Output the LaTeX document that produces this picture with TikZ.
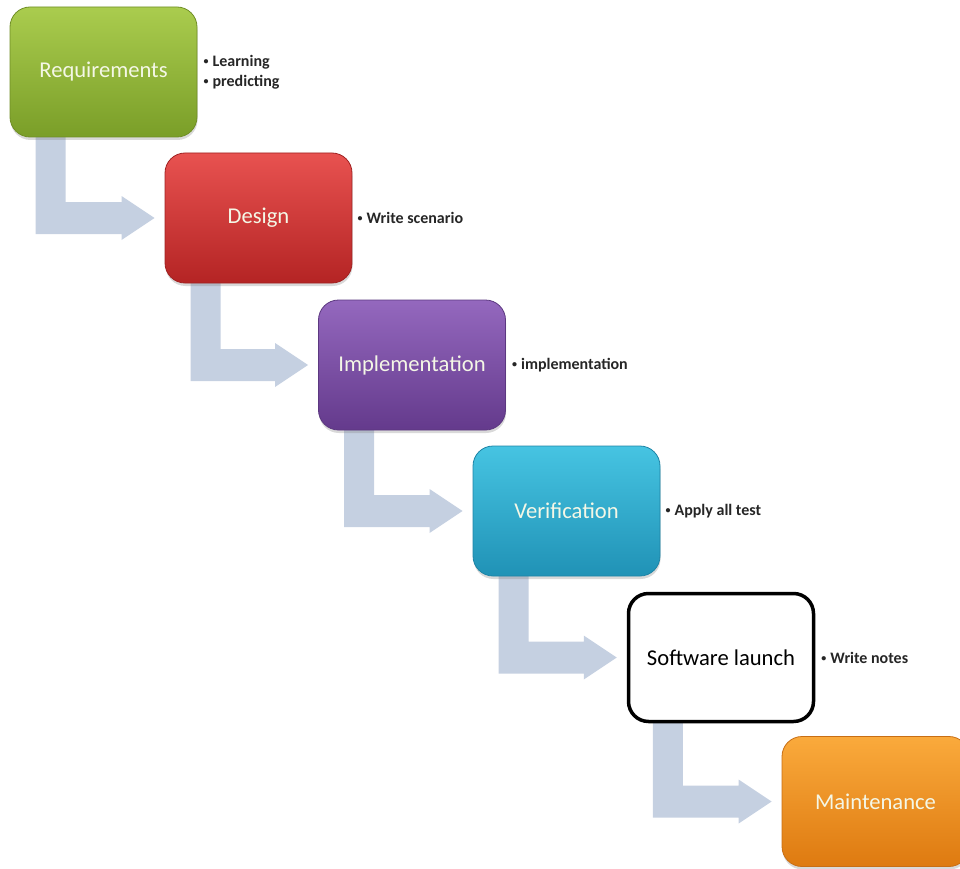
\documentclass[tikz,border=0pt]{standalone}
\usepackage{fontspec}
\setmainfont{Carlito}
\usetikzlibrary{calc,shadows,backgrounds}

\definecolor{flowblue}{RGB}{197,208,225}
\definecolor{stagetext}{RGB}{244,247,230}
\definecolor{greenTop}{RGB}{170,204,78}
\definecolor{greenMid}{RGB}{150,188,56}
\definecolor{greenBot}{RGB}{122,158,40}
\definecolor{greenEdge}{RGB}{112,142,38}
\definecolor{redTop}{RGB}{232,82,80}
\definecolor{redMid}{RGB}{214,58,58}
\definecolor{redBot}{RGB}{180,36,36}
\definecolor{redEdge}{RGB}{160,34,34}
\definecolor{purpleTop}{RGB}{148,104,190}
\definecolor{purpleMid}{RGB}{126,80,168}
\definecolor{purpleBot}{RGB}{100,58,140}
\definecolor{purpleEdge}{RGB}{92,56,128}
\definecolor{cyanTop}{RGB}{70,196,226}
\definecolor{cyanMid}{RGB}{44,178,214}
\definecolor{cyanBot}{RGB}{32,146,182}
\definecolor{cyanEdge}{RGB}{30,132,166}
\definecolor{orangeTop}{RGB}{250,170,60}
\definecolor{orangeMid}{RGB}{243,146,35}
\definecolor{orangeBot}{RGB}{222,122,16}
\definecolor{orangeEdge}{RGB}{200,110,20}

\tikzset{
  stage/.style={rounded corners=20pt, minimum width=187pt, minimum height=130pt,
    inner sep=0pt, text=stagetext, font=\fontsize{22.6}{26}\selectfont,
    line width=0.8pt,
    drop shadow={shadow xshift=0.5pt, shadow yshift=-3pt, opacity=0.3}},
  greenstage/.style={stage, top color=greenTop, middle color=greenMid, bottom color=greenBot, draw=greenEdge},
  redstage/.style={stage, top color=redTop, middle color=redMid, bottom color=redBot, draw=redEdge},
  purplestage/.style={stage, top color=purpleTop, middle color=purpleMid, bottom color=purpleBot, draw=purpleEdge},
  cyanstage/.style={stage, top color=cyanTop, middle color=cyanMid, bottom color=cyanBot, draw=cyanEdge},
  orangestage/.style={stage, top color=orangeTop, middle color=orangeMid, bottom color=orangeBot, draw=orangeEdge},
  plainstage/.style={rounded corners=20pt, minimum width=185pt, minimum height=128pt,
    inner sep=0pt, text=black, font=\fontsize{22.6}{26}\selectfont,
    fill=white, draw=black, line width=3.5pt},
  note/.style={anchor=west, inner sep=0pt, align=left, text=black!85,
    font=\bfseries\fontsize{16}{20}\selectfont},
  flow/.style={fill=flowblue}
}

% small list bullet used in the notes, raised to sit on the x-height middle
\newcommand\notedot{\raisebox{1.6pt}{\fontsize{10}{10}\selectfont\textbullet}\hspace{4pt}}

% bent arrow running down from one stage and then right into the next
\newcommand\stepflow[2]{%
  \path[flow] let \p1=(#1.south west), \p2=(#2.west) in
    (\x1+26pt,\y1+12pt) -- (\x1+26pt,\y2-16pt) -- (\x2-43pt,\y2-16pt)
    -- (\x2-43pt,\y2-22pt) -- (\x2-10pt,\y2) -- (\x2-43pt,\y2+22pt)
    -- (\x2-43pt,\y2+16pt) -- (\x1+56pt,\y2+16pt) -- (\x1+56pt,\y1+12pt) -- cycle;}

\begin{document}
\begin{tikzpicture}[x=1pt,y=1pt]
  \useasboundingbox (0,0) rectangle (960,-869);
  \clip (0,0) rectangle (960,-869);

  % stages
  \node[greenstage]  (r) at (103.5,-72)  {Requirements};
  \node[redstage]    (d) at (258.5,-218) {Design};
  \node[purplestage] (i) at (412,-365)   {Implementation};
  \node[cyanstage]   (v) at (566.5,-511) {Verification};
  \node[plainstage]  (s) at (721,-657.5) {Software launch};
  \node[orangestage] (m) at (875.5,-801.5) {Maintenance};

  % notes beside the stages
  \node[note] (nr) at ($(r.east)+(6,0)$) {\notedot Learning\\\notedot predicting};
  \node[note] (nd) at ($(d.east)+(5,0)$) {\notedot Write scenario};
  \node[note] (ni) at ($(i.east)+(6,0)$) {\notedot implementation};
  \node[note] (nv) at ($(v.east)+(5,0)$) {\notedot Apply all test};
  \node[note] (ns) at ($(s.east)+(6,0)$) {\notedot Write notes};

  % flow arrows behind the stages
  \begin{scope}[on background layer]
    \stepflow{r}{d}
    \stepflow{d}{i}
    \stepflow{i}{v}
    \stepflow{v}{s}
    \stepflow{s}{m}
  \end{scope}
\end{tikzpicture}
\end{document}
